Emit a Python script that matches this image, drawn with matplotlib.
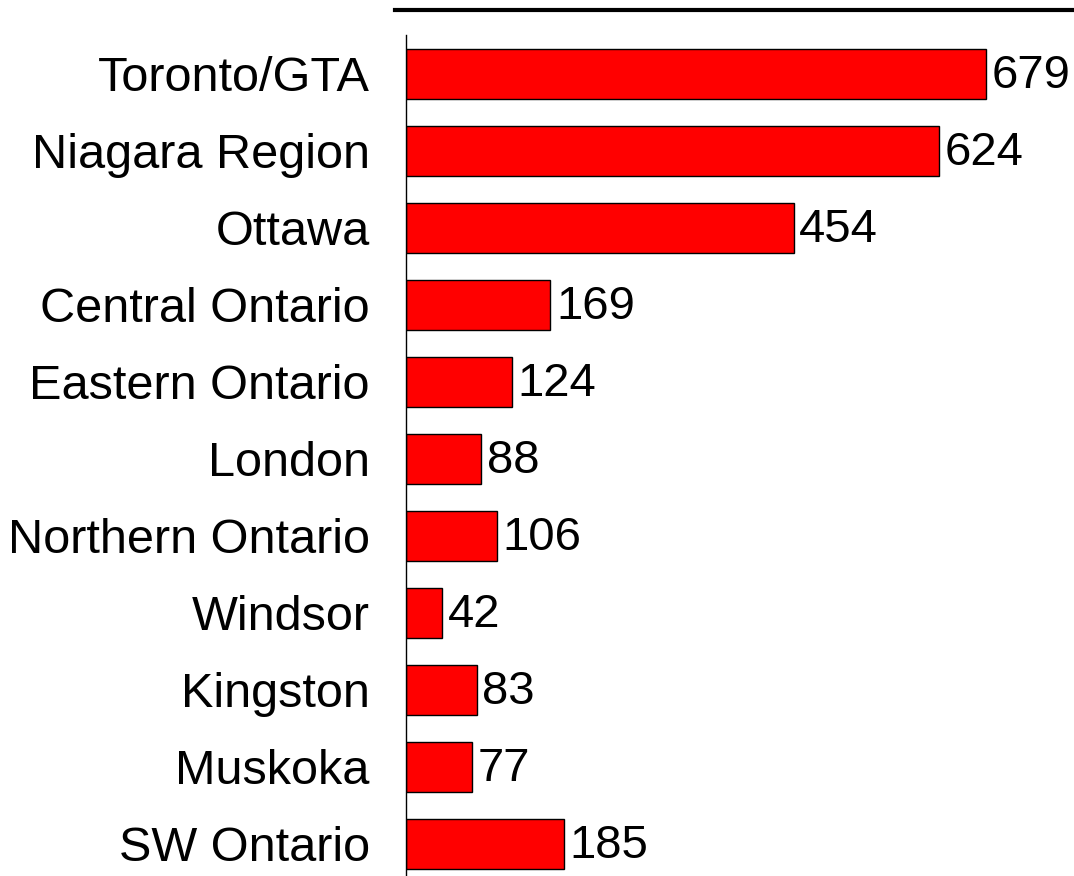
import matplotlib.pyplot as plt
from matplotlib.lines import Line2D

plt.rcParams['font.family'] = ['Liberation Sans', 'DejaVu Sans']

regions = ['Toronto/GTA', 'Niagara Region', 'Ottawa', 'Central Ontario',
           'Eastern Ontario', 'London', 'Northern Ontario', 'Windsor',
           'Kingston', 'Muskoka', 'SW Ontario']
counts = [679, 624, 454, 169, 124, 88, 106, 42, 83, 77, 185]

fig = plt.figure(figsize=(10.74, 8.76), dpi=100)
ax = fig.add_axes([0.378, -0.007, 0.618, 0.967])

pos = list(range(len(regions)))
ax.barh(pos, counts, height=0.65, color='#ff0000', edgecolor='black', linewidth=1.0)
ax.set_ylim(len(regions) - 0.5, -0.5)
ax.set_xlim(0, 777)

ax.set_yticks(pos)
ax.set_yticklabels(regions, fontsize=35)
ax.tick_params(axis='y', length=0, pad=26)
ax.set_xticks([])

for s in ['top', 'right', 'bottom']:
    ax.spines[s].set_visible(False)
ax.spines['left'].set_linewidth(1.0)

# value labels just past the bar ends
for y, v in zip(pos, counts):
    ax.annotate(str(v), (v, y), xytext=(4, -2), textcoords='offset points',
                va='center', ha='left', fontsize=34)

# rule across the top
fig.add_artist(Line2D([395 / 1074, 1.0], [1 - 10 / 876, 1 - 10 / 876],
                      transform=fig.transFigure, color='black', linewidth=3))

fig.savefig('out.png', dpi=100)
